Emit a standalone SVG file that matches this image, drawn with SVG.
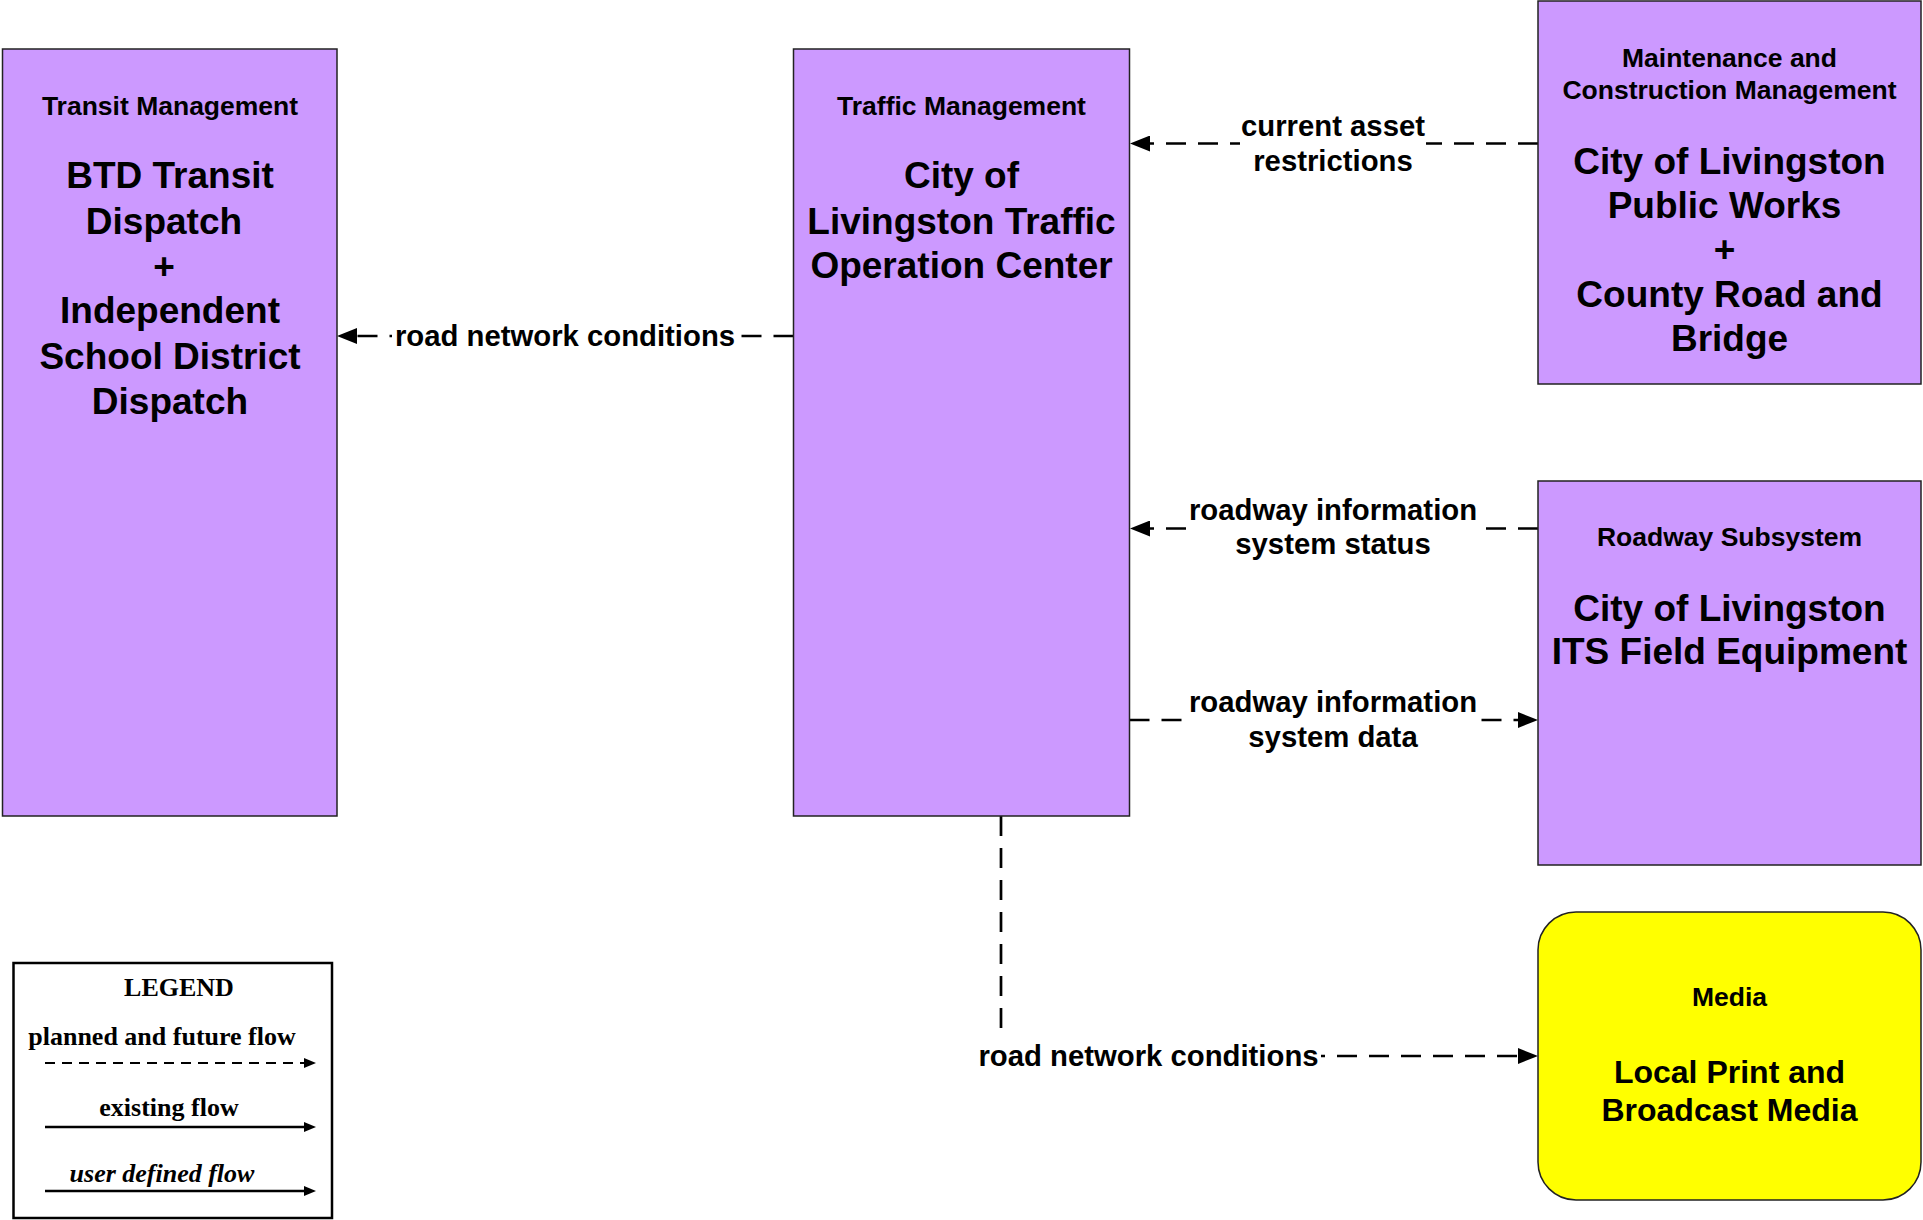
<svg xmlns="http://www.w3.org/2000/svg" width="1923" height="1220" viewBox="0 0 1923 1220">
<defs>
<style>
.box{fill:#CC99FF;stroke:#222;stroke-width:1.5}
.media{fill:#FFFF00;stroke:#222;stroke-width:1.5}
text{font-family:"Liberation Sans",Arial,sans-serif;font-weight:bold;fill:#000;text-anchor:middle}
.h{font-size:26.5px}
.b{font-size:37px}
.m{font-size:32px}
.lbl{font-size:29.3px}
.flow{fill:none;stroke:#000;stroke-width:2.7;stroke-dasharray:20 12}
.bg{fill:#fff}
.lg{font-family:"Liberation Serif","Times New Roman",serif;font-size:26px}
</style>
<marker id="arr" markerUnits="userSpaceOnUse" markerWidth="20" markerHeight="16" refX="0" refY="8" orient="auto" viewBox="0 0 20 16">
<path d="M0,0 L20,8 L0,16 z" fill="#000"/>
</marker>
<marker id="arrs" markerUnits="userSpaceOnUse" markerWidth="12" markerHeight="10" refX="0" refY="5" orient="auto" viewBox="0 0 12 10">
<path d="M0,0 L12,5 L0,10 z" fill="#000"/>
</marker>
</defs>
<rect width="1923" height="1220" fill="#fff"/>

<g id="connectors">
<path class="flow" d="M793.5,336 H357" marker-end="url(#arr)"/>
<rect class="bg" x="392" y="318" width="346" height="36"/>
<text class="lbl" x="565" y="346">road network conditions</text>

<path class="flow" d="M1538,143.5 H1150" marker-end="url(#arr)"/>
<rect class="bg" x="1240" y="108" width="186" height="70"/>
<text class="lbl" x="1333" y="136">current asset</text>
<text class="lbl" x="1333" y="171">restrictions</text>

<path class="flow" d="M1538,528.5 H1150" marker-end="url(#arr)"/>
<rect class="bg" x="1186" y="492" width="294" height="70"/>
<text class="lbl" x="1333" y="520">roadway information</text>
<text class="lbl" x="1333" y="554">system status</text>

<path class="flow" d="M1129.5,720 H1518" marker-end="url(#arr)"/>
<rect class="bg" x="1186" y="685" width="294" height="70"/>
<text class="lbl" x="1333" y="712">roadway information</text>
<text class="lbl" x="1333" y="747">system data</text>

<path class="flow" d="M1001,816 V1056 H1518" marker-end="url(#arr)"/>
<rect class="bg" x="975" y="1030" width="346" height="40"/>
<text class="lbl" x="1148.5" y="1066">road network conditions</text>
</g>

<g id="transit-management">
<rect class="box" x="2.5" y="49" width="334.5" height="767"/>
<text class="h" x="170" y="115">Transit Management</text>
<text class="b" x="170" y="188">BTD Transit</text>
<text class="b" x="164" y="234">Dispatch</text>
<text class="b" x="164" y="279">+</text>
<text class="b" x="170" y="323">Independent</text>
<text class="b" x="170" y="369">School District</text>
<text class="b" x="170" y="414">Dispatch</text>
</g>

<g id="traffic-management">
<rect class="box" x="793.5" y="49" width="336" height="767"/>
<text class="h" x="961.5" y="115">Traffic Management</text>
<text class="b" x="961.5" y="188">City of</text>
<text class="b" x="961.5" y="234">Livingston Traffic</text>
<text class="b" x="961.5" y="278">Operation Center</text>
</g>

<g id="maintenance-construction">
<rect class="box" x="1538" y="1" width="383" height="383"/>
<text class="h" x="1729.5" y="67">Maintenance and</text>
<text class="h" x="1729.5" y="99">Construction Management</text>
<text class="b" x="1729.5" y="174">City of Livingston</text>
<text class="b" x="1724.5" y="218">Public Works</text>
<text class="b" x="1724.5" y="262">+</text>
<text class="b" x="1729.5" y="307">County Road and</text>
<text class="b" x="1729.5" y="351">Bridge</text>
</g>

<g id="roadway-subsystem">
<rect class="box" x="1538" y="481" width="383" height="384"/>
<text class="h" x="1729.5" y="546">Roadway Subsystem</text>
<text class="b" x="1729.5" y="621">City of Livingston</text>
<text class="b" x="1729.5" y="664">ITS Field Equipment</text>
</g>

<g id="media">
<rect class="media" x="1538" y="912" width="383" height="288" rx="38" ry="38"/>
<text class="h" x="1729.5" y="1006">Media</text>
<text class="m" x="1729.5" y="1083">Local Print and</text>
<text class="m" x="1729.5" y="1121">Broadcast Media</text>
</g>

<g id="legend">
<rect x="13.5" y="963" width="318.5" height="255" fill="#fff" stroke="#000" stroke-width="2.5"/>
<text class="lg" x="179" y="996">LEGEND</text>
<text class="lg" x="162" y="1045">planned and future flow</text>
<path d="M45,1063 H304" fill="none" stroke="#000" stroke-width="2" stroke-dasharray="10 7" marker-end="url(#arrs)"/>
<text class="lg" x="169" y="1116">existing flow</text>
<path d="M45,1127 H304" fill="none" stroke="#000" stroke-width="2.5" marker-end="url(#arrs)"/>
<text class="lg" x="162" y="1182" font-style="italic">user defined flow</text>
<path d="M45,1191 H304" fill="none" stroke="#000" stroke-width="2.5" marker-end="url(#arrs)"/>
</g>
</svg>
